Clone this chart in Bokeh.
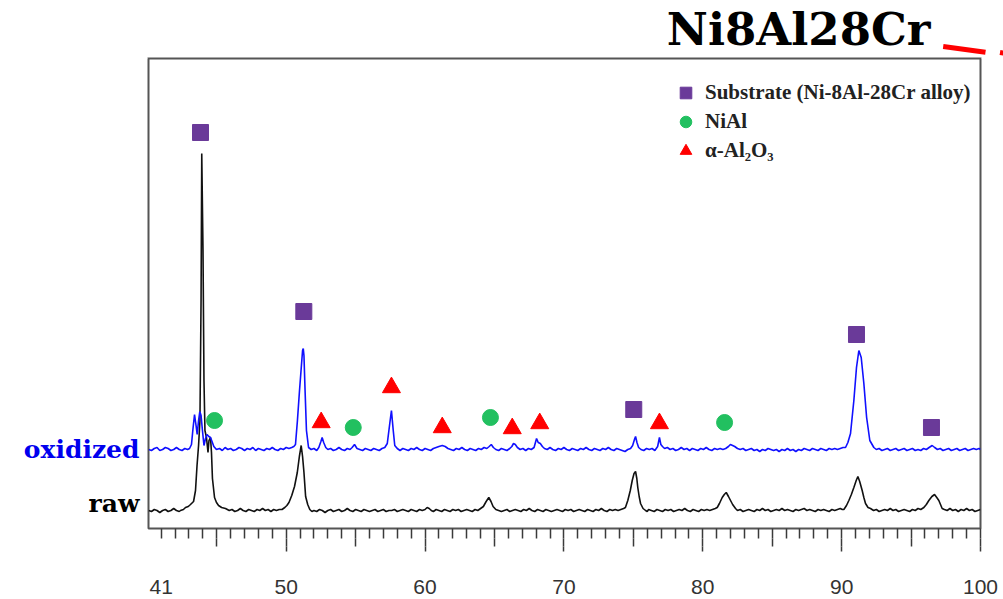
from bokeh.plotting import figure
from bokeh.layouts import row, column
from bokeh.models import LinearAxis, FixedTicker, Range1d, Legend, LegendItem
from bokeh.core.properties import value
from bokeh.embed import file_html
from bokeh.resources import INLINE

# ---------------- data (2-theta in degrees, intensity in arbitrary units) ----
raw_two_theta = [40.1, 40.3, 40.5, 40.7, 40.9, 41.1, 41.3, 41.5, 41.7, 41.9, 42.1, 42.3, 42.39, 42.6, 42.75, 42.95,
                 43.11, 43.33, 43.47, 43.58, 43.69, 43.79, 43.87, 43.92, 44.01, 44.08, 44.15, 44.26, 44.37, 44.44,
                 44.55, 44.62, 44.69, 44.84, 44.98, 45.13, 45.35, 45.63, 45.9, 46.1, 46.3, 46.5, 46.7, 46.9, 47.1,
                 47.3, 47.5, 47.7, 47.9, 48.1, 48.3, 48.5, 48.7, 48.9, 49.1, 49.3, 49.5, 49.7, 49.9, 50.05, 50.2,
                 50.4, 50.6, 50.8, 50.95, 51.08, 51.18, 51.28, 51.4, 51.55, 51.7, 51.85, 52.0, 52.2, 52.4, 52.6,
                 52.8, 53.0, 53.2, 53.4, 53.6, 53.8, 54.0, 54.2, 54.4, 54.6, 54.8, 55.0, 55.2, 55.4, 55.6, 55.8,
                 56.0, 56.2, 56.4, 56.6, 56.8, 57.0, 57.2, 57.4, 57.6, 57.8, 58.0, 58.2, 58.4, 58.6, 58.8, 59.0,
                 59.2, 59.4, 59.6, 59.8, 60.0, 60.15, 60.3, 60.45, 60.6, 60.8, 61.0, 61.2, 61.4, 61.6, 61.8, 62.0,
                 62.2, 62.4, 62.6, 62.8, 63.0, 63.2, 63.4, 63.6, 63.8, 64.0, 64.2, 64.4, 64.59, 64.75, 64.9, 65.1,
                 65.3, 65.5, 65.7, 65.9, 66.1, 66.3, 66.5, 66.7, 66.9, 67.1, 67.3, 67.5, 67.7, 67.9, 68.1, 68.3,
                 68.5, 68.7, 68.9, 69.1, 69.3, 69.5, 69.7, 69.9, 70.1, 70.3, 70.5, 70.7, 70.9, 71.1, 71.3, 71.5,
                 71.7, 71.9, 72.1, 72.3, 72.5, 72.7, 72.9, 73.1, 73.3, 73.5, 73.7, 73.9, 74.1, 74.3, 74.43, 74.6,
                 74.78, 74.92, 75.05, 75.16, 75.25, 75.32, 75.42, 75.52, 75.7, 75.88, 76.0, 76.1, 76.3, 76.5, 76.7,
                 76.9, 77.1, 77.3, 77.5, 77.7, 77.9, 78.1, 78.3, 78.5, 78.7, 78.9, 79.1, 79.3, 79.5, 79.7, 79.9,
                 80.1, 80.3, 80.5, 80.7, 80.9, 81.04, 81.2, 81.4, 81.55, 81.69, 81.85, 82.0, 82.15, 82.36, 82.5,
                 82.7, 82.9, 83.1, 83.3, 83.5, 83.7, 83.9, 84.1, 84.3, 84.5, 84.7, 84.9, 85.1, 85.3, 85.5, 85.7,
                 85.9, 86.1, 86.3, 86.5, 86.7, 86.9, 87.1, 87.3, 87.5, 87.7, 87.9, 88.1, 88.3, 88.5, 88.7, 88.9,
                 89.1, 89.3, 89.5, 89.7, 89.9, 90.05, 90.16, 90.35, 90.52, 90.7, 90.88, 91.05, 91.17, 91.3, 91.48,
                 91.6, 91.72, 91.9, 92.08, 92.3, 92.5, 92.7, 92.9, 93.1, 93.3, 93.5, 93.7, 93.9, 94.1, 94.3, 94.5,
                 94.7, 94.9, 95.1, 95.3, 95.5, 95.7, 95.92, 96.1, 96.28, 96.5, 96.69, 96.85, 97.0, 97.12, 97.24,
                 97.4, 97.6, 97.8, 98.0, 98.2, 98.4, 98.6, 98.8, 99.0, 99.2, 99.4, 99.6, 99.8, 100.0]
raw_intensity = [18, 17, 19, 18, 16, 18, 19, 17, 18, 20, 18, 17, 18, 19, 21, 22,
                 24, 27, 38, 63, 83, 108, 228, 375, 278, 148, 98, 91, 76, 88,
                 91, 76, 50, 31, 26, 23, 21, 20, 18, 19, 17, 18, 20, 18, 17,
                 19, 18, 17, 19, 18, 20, 18, 19, 17, 19, 18, 19, 19, 21, 23, 26,
                 33, 42, 56, 72, 83, 72, 56, 32, 24, 19, 17, 18, 17, 19, 18,
                 16, 18, 19, 17, 18, 19, 17, 18, 20, 18, 17, 19, 18, 17, 19, 18,
                 17, 18, 19, 17, 18, 19, 17, 18, 18, 19, 17, 18, 19, 18, 17, 19,
                 18, 17, 19, 18, 19, 21, 20, 18, 17, 19, 18, 17, 19, 18, 17, 19,
                 18, 19, 17, 18, 19, 18, 17, 19, 18, 20, 22, 27, 31, 27, 22, 19,
                 18, 17, 18, 19, 17, 18, 19, 18, 17, 19, 18, 20, 18, 17, 19, 18,
                 17, 19, 18, 17, 18, 19, 18, 17, 19, 18, 19, 17, 18, 19, 18, 17,
                 19, 18, 17, 19, 18, 20, 18, 17, 19, 18, 19, 18, 19, 20, 21, 28,
                 38, 48, 55, 57, 50, 41, 32, 25, 20, 18, 17, 19, 18, 17, 19,
                 18, 17, 19, 18, 19, 17, 18, 19, 18, 20, 18, 17, 19, 18, 17, 19,
                 18, 19, 18, 19, 20, 21, 25, 31, 34, 36, 32, 28, 24, 20, 18,
                 19, 17, 18, 19, 18, 17, 19, 18, 20, 18, 19, 17, 18, 19, 18, 20,
                 18, 19, 18, 17, 19, 18, 19, 20, 18, 19, 18, 17, 19, 18, 19, 18,
                 17, 19, 18, 19, 20, 19, 19, 23, 28, 34, 41, 48, 52, 47, 38,
                 31, 25, 21, 20, 18, 19, 17, 18, 19, 18, 20, 18, 19, 17, 18, 19,
                 18, 17, 19, 18, 20, 19, 21, 24, 28, 32, 34, 31, 28, 24, 20,
                 19, 18, 20, 18, 19, 17, 19, 18, 20, 18, 19, 17, 18, 19]

ox_two_theta = [40.1, 40.3, 40.5, 40.7, 40.9, 41.1, 41.3, 41.5, 41.7, 41.9, 42.1, 42.3, 42.5, 42.7, 42.9, 43.04,
                43.18, 43.29, 43.40, 43.51, 43.59, 43.69, 43.78, 43.87, 43.97, 44.08, 44.19, 44.30, 44.43, 44.55,
                44.66, 44.79, 44.98, 45.2, 45.4, 45.6, 45.8, 46.0, 46.2, 46.4, 46.6, 46.8, 47.0, 47.2, 47.4, 47.6,
                47.8, 48.0, 48.2, 48.4, 48.6, 48.8, 49.0, 49.2, 49.4, 49.6, 49.8, 50.0, 50.2, 50.4, 50.55, 50.67,
                50.81, 50.96, 51.07, 51.18, 51.23, 51.28, 51.36, 51.46, 51.61, 51.8, 52.0, 52.2, 52.35, 52.5,
                52.59, 52.7, 52.85, 53.0, 53.2, 53.4, 53.6, 53.8, 54.0, 54.2, 54.4, 54.6, 54.75, 54.92, 55.1, 55.3,
                55.5, 55.7, 55.9, 56.1, 56.3, 56.5, 56.7, 56.9, 57.1, 57.28, 57.46, 57.58, 57.71, 57.82, 58.0,
                58.2, 58.4, 58.6, 58.8, 59.0, 59.2, 59.4, 59.6, 59.8, 60.0, 60.2, 60.4, 60.6, 60.8, 61.0, 61.24,
                61.45, 61.65, 61.85, 62.05, 62.25, 62.45, 62.65, 62.85, 63.05, 63.25, 63.45, 63.65, 63.85, 64.05,
                64.25, 64.45, 64.62, 64.77, 64.92, 65.1, 65.3, 65.5, 65.7, 65.9, 66.1, 66.25, 66.37, 66.5, 66.65,
                66.85, 67.05, 67.25, 67.45, 67.65, 67.85, 68.03, 68.15, 68.3, 68.45, 68.6, 68.8, 69.0, 69.2, 69.4,
                69.6, 69.8, 70.0, 70.2, 70.4, 70.6, 70.8, 71.0, 71.2, 71.4, 71.6, 71.8, 72.0, 72.2, 72.4, 72.6,
                72.8, 73.0, 73.2, 73.4, 73.6, 73.8, 74.0, 74.2, 74.4, 74.6, 74.8, 74.95, 75.08, 75.16, 75.26,
                75.38, 75.55, 75.75, 75.95, 76.15, 76.35, 76.55, 76.75, 76.88, 76.98, 77.1, 77.25, 77.45, 77.65,
                77.85, 78.05, 78.25, 78.45, 78.65, 78.85, 79.05, 79.25, 79.45, 79.65, 79.85, 80.05, 80.25, 80.45,
                80.65, 80.85, 81.05, 81.25, 81.45, 81.65, 81.85, 81.99, 82.15, 82.3, 82.5, 82.7, 82.9, 83.1, 83.3,
                83.5, 83.7, 83.9, 84.1, 84.3, 84.5, 84.7, 84.9, 85.1, 85.3, 85.5, 85.7, 85.9, 86.1, 86.3, 86.5,
                86.7, 86.9, 87.1, 87.3, 87.5, 87.7, 87.9, 88.1, 88.3, 88.5, 88.7, 88.9, 89.1, 89.3, 89.5, 89.7,
                89.9, 90.1, 90.28, 90.45, 90.64, 90.88, 91.07, 91.24, 91.41, 91.60, 91.80, 92.03, 92.32, 92.5,
                92.7, 92.9, 93.1, 93.3, 93.5, 93.7, 93.9, 94.1, 94.3, 94.5, 94.7, 94.9, 95.1, 95.3, 95.5, 95.7,
                95.9, 96.1, 96.3, 96.52, 96.7, 96.9, 97.1, 97.3, 97.5, 97.7, 97.9, 98.1, 98.3, 98.5, 98.7, 98.9,
                99.1, 99.3, 99.5, 99.7, 99.9, 100.0]
ox_intensity = [79, 78, 80, 81, 78, 79, 81, 80, 78, 79, 81, 79, 78, 80, 79, 80,
                84, 100, 114, 103, 94, 108, 117, 113, 98, 83, 90, 94, 92, 91,
                87, 82, 79, 80, 78, 81, 79, 80, 78, 79, 81, 80, 78, 80, 79, 81,
                78, 80, 79, 78, 80, 79, 81, 79, 78, 80, 79, 81, 80, 81, 82, 84,
                108, 138, 158, 178, 180, 173, 138, 98, 81, 79, 80, 78, 81, 87,
                91, 86, 81, 79, 80, 78, 79, 81, 79, 78, 80, 79, 81, 84, 80, 79,
                78, 80, 79, 78, 80, 79, 78, 80, 81, 85, 105, 118, 98, 83, 80,
                78, 80, 79, 78, 80, 79, 81, 79, 78, 80, 79, 78, 80, 81, 82, 83,
                82, 80, 79, 78, 80, 79, 81, 79, 78, 80, 79, 78, 80, 79,
                81, 80, 82, 84, 81, 79, 78, 80, 79, 78, 80, 82, 85, 84, 81,
                79, 80, 78, 80, 79, 81, 90, 86, 85, 82, 80, 79, 81, 79, 78,
                80, 79, 81, 79, 78, 80, 79, 78, 80, 79, 81, 79, 78, 80, 79, 78,
                80, 79, 81, 79, 78, 80, 79, 78, 77, 79, 80, 83, 89, 92, 86,
                81, 79, 78, 80, 79, 80, 78, 82, 91, 84, 82, 80, 81, 79,
                80, 78, 79, 81, 79, 80, 78, 80, 79, 78, 80, 79, 81, 79,
                78, 80, 79, 80, 79, 80, 82, 84, 83, 82, 80, 79, 80, 78, 79,
                80, 78, 79, 77, 79, 78, 80, 79, 78, 79, 77, 79, 78, 80, 78, 79,
                77, 79, 78, 80, 79, 78, 80, 79, 78, 80, 79, 78, 80, 79, 80, 79,
                80, 81, 81, 86, 95, 128, 161, 178, 171, 145, 111, 88, 81, 79,
                80, 78, 79, 80, 78, 79, 80, 78, 79, 80, 78, 79, 80, 78, 79, 78,
                80, 79, 81, 83, 81, 79, 80, 78, 79, 80, 78, 79, 80, 78, 79, 80,
                78, 79, 80, 79, 80, 79]

# phase markers (peak position, marker height)
substrate_x = [43.83, 51.27, 75.03, 91.07, 96.47]
substrate_y = [396, 217, 119, 194, 101]
nial_x = [44.84, 54.83, 64.71, 81.57]
nial_y = [108, 101, 111, 106]
alumina_x = [52.52, 57.58, 61.24, 66.28, 68.26, 76.88]
alumina_y = [106, 141, 101, 100, 105, 105]

legend_labels = ["Substrate (Ni-8Al-28Cr alloy)", "NiAl", "\u03b1-Al\u2082O\u2083"]
tick_labels_at = [41, 50, 60, 70, 80, 90, 100]
major_ticks = [50, 60, 70, 80, 90, 100]
five_ticks = [45, 50, 55, 60, 65, 70, 75, 80, 85, 90, 95, 100]
minor_ticks = list(range(41, 101))

title_text = "Ni8Al28Cr"
series_names = ["oxidized", "raw"]
series_name_y = [79, 25]
series_name_colors = ["#0000ee", "#000000"]

# ---------------- layout sizes ----------------
TOP_H = 58
LEFT_W = 146
MAIN_W = 1003 - LEFT_W
MAIN_H = 599 - TOP_H
X0, X1 = 40.085, 100.0
Y0, Y1 = 0, 470
shared_y = Range1d(Y0, Y1)
FRAME_COLOR = "#555555"


def bare(fig):
    fig.grid.visible = False
    fig.outline_line_color = None
    fig.background_fill_color = "white"
    fig.border_fill_color = "white"
    return fig


# ---------------- title strip (pixel coordinates) ----------------
top = bare(figure(width=1003, height=TOP_H, x_range=Range1d(0, 1003), y_range=Range1d(TOP_H, 0),
                  output_backend="svg", toolbar_location=None,
                  x_axis_location=None, y_axis_location=None,
                  min_border_left=0, min_border_right=0, min_border_top=0, min_border_bottom=0))
top.text(x=[930], y=[29], text=[title_text], text_align="right", text_baseline="alphabetic",
         text_font=value("DejaVu Serif"), text_font_style="bold", text_font_size=value("45px"),
         text_color="#000000")
# red connector fragment cut off at the top right corner
top.line(x=[942.7, 985.0], y=[46.0, 51.7], line_color="#ff0000", line_width=5)
top.line(x=[999.5, 1003.0], y=[52.0, 52.6], line_color="#ff0000", line_width=5)
# upper half of the plot frame's top edge
top.line(x=[LEFT_W + 1, 1003 - 22], y=[TOP_H - 0.5, TOP_H - 0.5], line_color=FRAME_COLOR, line_width=1)

# ---------------- series names strip ----------------
left = bare(figure(width=LEFT_W, height=MAIN_H, x_range=Range1d(0, LEFT_W), y_range=shared_y,
                   output_backend="svg", toolbar_location=None,
                   x_axis_location=None, y_axis_location=None,
                   min_border_left=0, min_border_right=0, min_border_top=0, min_border_bottom=71))
left.text(x=[LEFT_W - 7] * 2, y=series_name_y, text=series_names, text_color=series_name_colors,
          text_align="right", text_baseline="alphabetic",
          text_font=value("DejaVu Serif"), text_font_style="bold", text_font_size=value("25px"))

# ---------------- main plot ----------------
p = figure(width=MAIN_W, height=MAIN_H, x_range=Range1d(X0, X1), y_range=shared_y,
           output_backend="svg", toolbar_location=None,
           x_axis_location=None, y_axis_location=None,
           min_border_left=2, min_border_right=23, min_border_top=0, min_border_bottom=71)
p.grid.visible = False
p.outline_line_color = FRAME_COLOR
p.outline_line_width = 2
p.background_fill_color = "white"
p.border_fill_color = "white"

TICK_COLOR = "#3a3a3a"
common = dict(axis_line_color=None, major_tick_in=0, minor_tick_in=0,
              major_tick_line_color=TICK_COLOR, minor_tick_line_color=TICK_COLOR,
              major_tick_line_width=1.5, minor_tick_line_width=1.5)
# short ticks at every degree
ax_minor = LinearAxis(ticker=FixedTicker(ticks=[], minor_ticks=minor_ticks),
                      major_tick_out=10, minor_tick_out=10, major_label_standoff=0, **common)
# extension for every 5 degrees
ax_five = LinearAxis(ticker=FixedTicker(ticks=[], minor_ticks=five_ticks),
                     major_tick_out=8, minor_tick_out=8, major_label_standoff=0, **common)
# extension for every 10 degrees + labels
ax_lab = LinearAxis(ticker=FixedTicker(ticks=tick_labels_at, minor_ticks=major_ticks),
                    major_tick_out=0, minor_tick_out=5, major_label_standoff=28,
                    major_label_text_font="Liberation Sans", major_label_text_font_size="21px",
                    major_label_text_color="#333333", **common)
p.add_layout(ax_minor, "below")
p.add_layout(ax_five, "below")
p.add_layout(ax_lab, "below")

# traces
p.line(raw_two_theta, raw_intensity, line_color="#111111", line_width=1.6)
p.line(ox_two_theta, ox_intensity, line_color="#1010ff", line_width=1.6)

# markers
r_sq = p.scatter(substrate_x, substrate_y, marker="square", size=16,
                 fill_color="#6a3a99", line_color="#6a3a99")
r_ci = p.scatter(nial_x, nial_y, marker="circle", size=16,
                 fill_color="#22c060", line_color="#22c060")
r_tr = p.scatter(alumina_x, alumina_y, marker="triangle", size=18,
                 fill_color="#ff0000", line_color="#ff0000")

legend = Legend(items=[LegendItem(label=legend_labels[0], renderers=[r_sq]),
                       LegendItem(label=legend_labels[1], renderers=[r_ci]),
                       LegendItem(label=legend_labels[2], renderers=[r_tr])],
                location=(523, 363), glyph_width=29, glyph_height=29, label_height=29,
                spacing=0, padding=0, margin=0, label_standoff=5,
                border_line_color=None, background_fill_alpha=0,
                label_text_font="Liberation Serif", label_text_font_style="bold",
                label_text_font_size="21px", label_text_color="#222222")
p.add_layout(legend, "center")

layout = column(top, row(left, p, spacing=0), spacing=0)
open("out.html", "w").write(file_html(layout, INLINE))
